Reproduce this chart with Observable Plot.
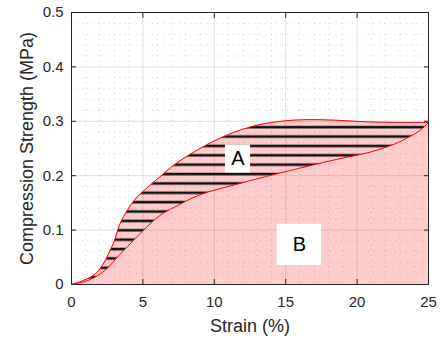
<!DOCTYPE html>
<html><head><meta charset="utf-8">
<script src="https://cdn.jsdelivr.net/npm/d3@7"></script>
<script src="https://cdn.jsdelivr.net/npm/@observablehq/plot@0.6"></script>
<style>body{margin:0;background:#fff;}</style>
</head><body><div id="chart"></div>
<script>
// Loading curve (upper)
const loadStrain = [0, 0.85, 1.55, 2.0, 2.4, 2.75, 3.0, 3.45, 4.4, 5.3, 6.2, 7.2, 8.6, 10.0, 11.4, 13.2, 15.0, 16.5, 18.5, 20.7, 23.0, 25.0];
const loadStress = [0, 0.0075, 0.017, 0.029, 0.046, 0.065, 0.080, 0.115, 0.155, 0.178, 0.198, 0.220, 0.244, 0.264, 0.280, 0.294, 0.301, 0.303, 0.302, 0.299, 0.298, 0.298];
// Unloading curve (lower), from 25 back to 0
const unloadStrain = [25.0, 24.5, 23.7, 22.6, 21.0, 18.4, 16.0, 13.7, 11.4, 9.0, 7.2, 6.2, 5.05, 3.9, 3.1, 2.6, 2.0, 1.1, 0];
const unloadStress = [0.298, 0.285, 0.272, 0.258, 0.244, 0.229, 0.214, 0.199, 0.183, 0.165, 0.142, 0.127, 0.100, 0.069, 0.047, 0.032, 0.019, 0.007, 0];
const xTicks = [0, 5, 10, 15, 20, 25];
const yTicks = [0, 0.1, 0.2, 0.3, 0.4, 0.5];
const xMinor = [1,2,3,4,6,7,8,9,11,12,13,14,16,17,18,19,21,22,23,24];
const yMinor = [0.02,0.04,0.06,0.08,0.12,0.14,0.16,0.18,0.22,0.24,0.26,0.28,0.32,0.34,0.36,0.38,0.42,0.44,0.46,0.48];
const labelText = ["A", "B"];
const labelX = [11.66, 15.96];
const labelY = [0.231, 0.073];
const boxX1 = [10.78, 14.40];
const boxX2 = [12.54, 17.51];
const boxY1 = [0.205, 0.035];
const boxY2 = [0.2565, 0.1107];

const upper = loadStrain.map((x, i) => ({x, y: loadStress[i]}));
const lower = unloadStrain.map((x, i) => ({x, y: unloadStress[i]}));
const loop = upper.concat(lower.slice(1));
const labels = labelText.map((t, i) => ({t, x: labelX[i], y: labelY[i], x1: boxX1[i], x2: boxX2[i], y1: boxY1[i], y2: boxY2[i]}));

const curve = "catmull-rom";
const axisColor = "#262626";

const svg = Plot.plot({
  width: 444, height: 340,
  marginLeft: 71, marginRight: 16, marginTop: 12, marginBottom: 56,
  style: {fontFamily: "'Liberation Sans', Arial, sans-serif", fontSize: "15px", color: axisColor, background: "#fff"},
  x: {domain: [0, 25]},
  y: {domain: [0, 0.5]},
  marks: [
    Plot.ruleX(xMinor, {stroke: "#d2d2d2", strokeDasharray: "1,4.4"}),
    Plot.ruleY(yMinor, {stroke: "#d2d2d2", strokeDasharray: "1,4.4"}),
    Plot.ruleX(xTicks, {stroke: "#dedede"}),
    Plot.ruleY(yTicks, {stroke: "#dedede"}),
    Plot.areaY(upper, {x: "x", y: "y", fill: "red", fillOpacity: 0.2, curve}),
    Plot.line(loop, {x: "x", y: "y", fill: "url(#hatch)", stroke: "none", curve, clip: true}),
    Plot.line(upper, {x: "x", y: "y", stroke: "red", strokeWidth: 1, curve}),
    Plot.line(lower, {x: "x", y: "y", stroke: "red", strokeWidth: 1, curve}),
    Plot.rect(labels, {x1: "x1", x2: "x2", y1: "y1", y2: "y2", fill: "white"}),
    Plot.text(labels, {x: "x", y: "y", text: "t", fontSize: 20, fill: "black"}),
    Plot.frame({stroke: axisColor}),
    Plot.axisX({anchor: "bottom", ticks: xTicks, tickSize: -5, tickPadding: 17, label: null, tickFormat: d => String(d), fontSize: 15}),
    Plot.axisX({anchor: "top", ticks: xTicks, tickSize: -5, label: null, tickFormat: () => ""}),
    Plot.axisY({anchor: "left", ticks: yTicks, tickSize: -5, tickPadding: 13, label: null, tickFormat: d => String(d), fontSize: 15}),
    Plot.axisY({anchor: "right", ticks: yTicks, tickSize: -5, label: null, tickFormat: () => ""}),
    Plot.text(["Strain (%)"], {frameAnchor: "bottom", dy: 47, fontSize: 18, fill: axisColor}),
    Plot.text(["Compression Strength (MPa)"], {frameAnchor: "left", textAnchor: "middle", rotate: -90, dx: -44, fontSize: 18, fill: axisColor})
  ]
});

const ns = "http://www.w3.org/2000/svg";
const defs = document.createElementNS(ns, "defs");
defs.innerHTML = '<pattern id="hatch" patternUnits="userSpaceOnUse" x="0" y="0" width="12" height="9.375"><line x1="0" x2="12" y1="4.8" y2="4.8" stroke="#111" stroke-width="2.6"/></pattern>';
svg.insertBefore(defs, svg.firstChild);
document.getElementById("chart").appendChild(svg);
</script>
</body></html>
